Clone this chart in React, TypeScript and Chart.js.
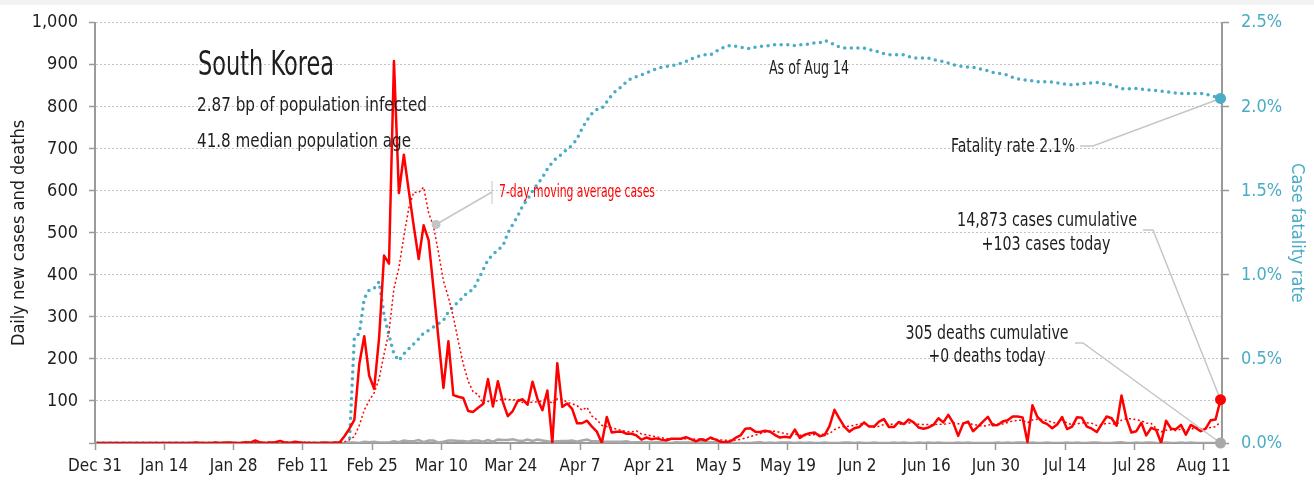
import React, { useEffect, useRef } from 'react';
import { Chart, registerables } from 'chart.js';

Chart.register(...registerables);

// ---------- data (day index 0 = Dec 31, 2019 … 227 = Aug 14, 2020) ----------
const X_TICK_LABELS = [
  'Dec 31', 'Jan 14', 'Jan 28', 'Feb 11', 'Feb 25', 'Mar 10', 'Mar 24', 'Apr 7', 'Apr 21',
  'May 5', 'May 19', 'Jun 2', 'Jun 16', 'Jun 30', 'Jul 14', 'Jul 28', 'Aug 11',
];

const CASES = [
  0, 0, 0, 0, 0, 0, 0, 0, 0, 0,
  0, 0, 0, 0, 0, 0, 0, 0, 0, 0,
  1, 0, 0, 0, 1, 0, 1, 1, 0, 0,
  2, 1, 6, 1, 0, 1, 2, 5, 1, 0,
  3, 1, 0, 0, 0, 0, 1, 0, 1, 1,
  16, 34, 55, 188, 254, 160, 129, 250, 446, 427,
  909, 595, 686, 600, 516, 438, 518, 483, 367, 248,
  131, 242, 114, 110, 107, 76, 74, 84, 93, 152,
  87, 147, 98, 64, 76, 100, 104, 91, 146, 105,
  78, 125, 0, 190, 86, 94, 81, 47, 47, 53,
  39, 27, 0, 62, 25, 27, 27, 22, 22, 18,
  8, 13, 9, 11, 8, 6, 10, 10, 10, 14,
  9, 4, 9, 6, 13, 8, 3, 2, 4, 12,
  18, 34, 35, 27, 26, 29, 27, 19, 13, 15,
  13, 32, 12, 20, 23, 25, 16, 19, 40, 79,
  58, 39, 27, 35, 38, 49, 39, 39, 51, 57,
  38, 38, 50, 45, 56, 49, 37, 34, 37, 43,
  59, 49, 67, 48, 17, 46, 51, 28, 39, 51,
  62, 42, 43, 51, 54, 63, 63, 61, 2, 90,
  62, 50, 45, 35, 44, 62, 33, 39, 61, 60,
  39, 34, 26, 45, 63, 59, 41, 113, 58, 25,
  28, 48, 18, 36, 31, 0, 53, 34, 33, 43,
  20, 43, 36, 28, 34, 54, 56, 103,
];

const CASES_7DAY_AVG = [
  0, 0, 0, 0, 0, 0, 0, 0, 0, 0,
  0, 0, 0, 0, 0, 0, 0, 0, 0, 0,
  0.14, 0.14, 0.14, 0.14, 0.29, 0.29, 0.43, 0.43, 0.43, 0.43,
  0.71, 0.71, 1.57, 1.57, 1.43, 1.57, 1.86, 2.29, 2.29, 1.43,
  1.71, 1.86, 1.71, 1.43, 0.71, 0.57, 0.71, 0.29, 0.29, 0.43,
  2.71, 7.57, 15.4, 42.1, 78.4, 101.1, 119.4, 152.9, 211.7, 264.9,
  367.9, 416.6, 491.7, 559, 597, 595.9, 608.9, 548, 515.4, 452.9,
  385.9, 346.7, 300.4, 242.1, 188.4, 146.9, 122, 115.3, 94, 99.4,
  96.1, 101.9, 105, 103.6, 102.4, 103.4, 96.6, 97.1, 97, 98,
  100, 107, 92.7, 105, 104.3, 96.9, 93.4, 89, 77.9, 85.4,
  63.9, 55.4, 42, 39.3, 36.1, 33.3, 29.6, 27.1, 26.4, 29,
  21.3, 19.6, 17, 14.7, 12.7, 10.4, 9.3, 9.6, 9.1, 9.9,
  9.6, 9, 9.4, 8.9, 9.3, 9, 7.4, 6.4, 6.4, 6.9,
  8.6, 11.6, 15.4, 18.9, 22.3, 25.9, 28, 28.1, 25.1, 22.3,
  20.3, 21.1, 18.7, 17.7, 18.3, 20, 20.1, 21, 22.1, 31.7,
  37.1, 39.4, 39.7, 42.4, 45.1, 46.4, 40.7, 38, 39.7, 44,
  44.4, 44.4, 44.6, 45.4, 47.9, 47.6, 44.7, 44.1, 44, 43,
  45, 44, 46.6, 48.1, 45.7, 47, 48.1, 43.7, 42.3, 40,
  42, 45.6, 45.1, 45.1, 48.9, 52.3, 54, 53.9, 48.1, 54.9,
  56.4, 55.9, 53.3, 49.3, 46.9, 55.4, 47.3, 44, 45.6, 47.7,
  48.3, 46.9, 41.7, 43.4, 46.9, 46.6, 43.9, 54.4, 57.9, 57.7,
  55.3, 53.1, 47.3, 46.6, 34.9, 26.6, 30.6, 31.4, 29.3, 32.9,
  30.6, 32.3, 37.4, 33.9, 33.9, 36.9, 38.7, 50.6,
];

const DEATHS = [
  0, 0, 0, 0, 0, 0, 0, 0, 0, 0,
  0, 0, 0, 0, 0, 0, 0, 0, 0, 0,
  0, 0, 0, 0, 0, 0, 0, 0, 0, 0,
  0, 0, 0, 0, 0, 0, 0, 0, 0, 0,
  0, 0, 0, 0, 0, 0, 0, 0, 0, 0,
  0, 1, 1, 0, 3, 2, 3, 1, 1, 1,
  4, 2, 6, 4, 4, 7, 2, 6, 6, 1,
  3, 6, 6, 5, 5, 3, 6, 6, 3, 7,
  3, 8, 7, 7, 9, 6, 5, 8, 5, 8,
  6, 4, 3, 4, 5, 5, 6, 3, 6, 8,
  4, 4, 3, 3, 3, 3, 3, 4, 1, 2,
  2, 2, 1, 2, 2, 0, 0, 2, 1, 1,
  1, 1, 2, 2, 2, 2, 0, 1, 1, 0,
  0, 0, 0, 1, 2, 0, 1, 0, 1, 1,
  1, 0, 1, 0, 1, 0, 0, 1, 0, 0,
  0, 1, 1, 0, 1, 0, 0, 1, 0, 0,
  0, 1, 0, 1, 0, 0, 1, 0, 1, 0,
  1, 0, 0, 0, 1, 0, 1, 0, 0, 0,
  0, 0, 1, 0, 1, 0, 1, 1, 0, 1,
  0, 0, 1, 0, 0, 0, 1, 0, 1, 0,
  0, 1, 1, 0, 0, 0, 1, 2, 0, 0,
  1, 0, 1, 1, 0, 0, 1, 0, 0, 1,
  0, 1, 0, 0, 0, 0, 0, 0,
];

// case fatality rate, percent
const FATALITY_RATE = [
  0, 0, 0, 0, 0, 0, 0, 0, 0, 0,
  0, 0, 0, 0, 0, 0, 0, 0, 0, 0,
  0, 0, 0, 0, 0, 0, 0, 0, 0, 0,
  0, 0, 0, 0, 0, 0, 0, 0, 0, 0,
  0, 0, 0, 0, 0, 0, 0, 0, 0, 0,
  0, 0, 0.63, 0.65, 0.86, 0.91, 0.92, 0.96, 0.76, 0.64,
  0.53, 0.49, 0.53, 0.56, 0.59, 0.62, 0.655, 0.67, 0.69, 0.71,
  0.73, 0.78, 0.81, 0.84, 0.87, 0.9, 0.91, 0.97, 1.03, 1.09,
  1.12, 1.15, 1.17, 1.25, 1.3, 1.35, 1.41, 1.45, 1.5, 1.54,
  1.58, 1.63, 1.67, 1.7, 1.72, 1.75, 1.77, 1.81, 1.87, 1.92,
  1.96, 1.985, 1.99, 2.03, 2.07, 2.1, 2.12, 2.15, 2.17, 2.18,
  2.19, 2.2, 2.215, 2.225, 2.235, 2.24, 2.245, 2.25, 2.26, 2.27,
  2.285, 2.295, 2.305, 2.31, 2.31, 2.33, 2.345, 2.36, 2.365, 2.36,
  2.355, 2.35, 2.345, 2.355, 2.36, 2.36, 2.365, 2.37, 2.37, 2.37,
  2.37, 2.365, 2.37, 2.37, 2.375, 2.38, 2.38, 2.395, 2.385, 2.37,
  2.355, 2.35, 2.35, 2.35, 2.35, 2.35, 2.34, 2.335, 2.325, 2.316,
  2.31, 2.31, 2.31, 2.31, 2.3, 2.29, 2.29, 2.29, 2.29, 2.28,
  2.275, 2.27, 2.26, 2.25, 2.245, 2.24, 2.237, 2.235, 2.23, 2.22,
  2.215, 2.205, 2.2, 2.195, 2.188, 2.175, 2.167, 2.16, 2.158, 2.155,
  2.15, 2.15, 2.148, 2.147, 2.143, 2.138, 2.134, 2.13, 2.134, 2.138,
  2.14, 2.143, 2.145, 2.14, 2.135, 2.13, 2.12, 2.108, 2.106, 2.108,
  2.11, 2.106, 2.102, 2.1, 2.097, 2.093, 2.09, 2.086, 2.082, 2.08,
  2.08, 2.08, 2.08, 2.08, 2.077, 2.067, 2.06, 2.05,
];

const MA_LABEL_ANCHOR = { x: 68.5, y: 520 };

// ---------- styling ----------
const FONT = "'Liberation Sans Narrow', 'DejaVu Sans Condensed', Roboto, sans-serif";
const RED = '#ff0000';
const BLUE = '#4aacc6';
const GRAY_LINE = '#a8a8a8';
const AXIS = '#9a9a9a';
const TEXT = '#1e1e1e';
const LEADER = '#c6c6c6';

const toXY = (arr: number[]) => arr.map((v, i) => ({ x: i, y: v }));

const annotationPlugin = {
  id: 'skAnnotations',
  afterDraw(chart: any) {
    const { ctx, scales } = chart;
    const x = scales.x;
    const y = scales.y;
    const y1 = scales.y1;
    const last = CASES.length - 1;
    const px = x.getPixelForValue(last);
    const redY = y.getPixelForValue(CASES[last]);
    const grayY = y.getPixelForValue(DEATHS[last]);
    const blueY = y1.getPixelForValue(FATALITY_RATE[last]);
    const maX = x.getPixelForValue(MA_LABEL_ANCHOR.x);
    const maY = y.getPixelForValue(MA_LABEL_ANCHOR.y);

    ctx.save();
    // leader lines
    ctx.strokeStyle = LEADER;
    ctx.lineWidth = 1.5;
    const poly = (pts: number[][]) => {
      ctx.beginPath();
      ctx.moveTo(pts[0][0], pts[0][1]);
      for (let i = 1; i < pts.length; i++) ctx.lineTo(pts[i][0], pts[i][1]);
      ctx.stroke();
    };
    poly([[1080, 146], [1093, 146], [px, blueY]]);
    poly([[1143, 230], [1153, 230], [px, redY]]);
    poly([[1075, 343], [1083, 343], [px, grayY]]);
    poly([[492, 192], [maX, maY]]);
    ctx.lineWidth = 1;
    poly([[492, 181], [492, 204]]);

    // dots
    const dot = (cx: number, cy: number, r: number, c: string) => {
      ctx.beginPath();
      ctx.arc(cx, cy, r, 0, Math.PI * 2);
      ctx.fillStyle = c;
      ctx.fill();
    };
    dot(maX, maY, 4.5, '#c4c4c4');
    dot(px, grayY, 5.5, GRAY_LINE);
    dot(px, blueY, 5.5, BLUE);
    dot(px, redY, 5.5, RED);

    // texts (condensed horizontally to the reference's narrow face)
    const text = (
      s: string, tx: number, ty: number, size: number, align: CanvasTextAlign,
      width: number, color = TEXT,
    ) => {
      ctx.save();
      ctx.font = `${size}px ${FONT}`;
      ctx.fillStyle = color;
      ctx.textAlign = align;
      ctx.textBaseline = 'alphabetic';
      const w = ctx.measureText(s).width;
      const sx = w > 0 ? Math.min(1, width / w) : 1;
      ctx.translate(tx, ty);
      ctx.scale(sx, 1);
      ctx.fillText(s, 0, 0);
      ctx.restore();
    };
    text('South Korea', 198, 75, 34, 'left', 136);
    text('2.87 bp of population infected', 197, 111, 20, 'left', 230);
    text('41.8 median population age', 197, 147, 20, 'left', 214);
    text('As of Aug 14', 769, 74, 20, 'left', 80);
    text('Fatality rate 2.1%', 1075, 151.5, 20, 'right', 124);
    text('7-day moving average cases', 499, 197, 17, 'left', 156, RED);
    text('14,873 cases cumulative', 1047, 226, 20, 'center', 180);
    text('+103 cases today', 1046, 250, 20, 'center', 129);
    text('305 deaths cumulative', 987, 339, 20, 'center', 163);
    text('+0 deaths today', 987, 362, 20, 'center', 117);
    ctx.restore();
  },
};

export default function App() {
  const ref = useRef<HTMLCanvasElement | null>(null);

  useEffect(() => {
    if (!ref.current) return;
    const chart = new Chart(ref.current, {
      type: 'line',
      data: {
        datasets: [
          {
            label: 'Daily new cases',
            data: toXY(CASES),
            yAxisID: 'y',
            borderColor: RED,
            borderWidth: 2.5,
            pointRadius: 0,
            borderJoinStyle: 'round',
            order: 0,
          },
          {
            label: '7-day moving average cases',
            data: toXY(CASES_7DAY_AVG),
            yAxisID: 'y',
            borderColor: RED,
            borderWidth: 1.5,
            borderDash: [2, 2.5],
            pointRadius: 0,
            order: 1,
          },
          {
            label: 'Daily new deaths',
            data: toXY(DEATHS),
            yAxisID: 'y',
            borderColor: GRAY_LINE,
            borderWidth: 2.5,
            pointRadius: 0,
            order: 2,
          },
          {
            label: 'Case fatality rate',
            data: toXY(FATALITY_RATE),
            yAxisID: 'y1',
            borderColor: BLUE,
            borderWidth: 3.5,
            borderDash: [0, 6.6],
            borderCapStyle: 'round',
            pointRadius: 0,
            order: 3,
          },
        ],
      },
      options: {
        responsive: false,
        animation: false,
        layout: { padding: { top: 18, left: 0, right: 0, bottom: 0 } },
        plugins: { legend: { display: false }, tooltip: { enabled: false } },
        elements: { point: { radius: 0 }, line: { tension: 0 } },
        scales: {
          x: {
            type: 'linear',
            min: -0.4,
            max: 227.3,
            afterBuildTicks: (s: any) => {
              s.ticks = X_TICK_LABELS.map((_, k) => ({ value: 14 * k - 0.4 }));
            },
            afterFit: (s: any) => {
              s.height = 39;
            },
            ticks: {
              callback: (_v: any, i: number) => X_TICK_LABELS[i],
              autoSkip: false,
              maxRotation: 0,
              padding: 6,
              color: TEXT,
              font: { family: FONT, size: 17 },
            },
            grid: { drawOnChartArea: false, drawTicks: true, tickLength: 7, tickColor: AXIS, tickWidth: 1.5 },
            border: { color: AXIS, width: 2 },
          },
          y: {
            position: 'left',
            min: 0,
            max: 1000,
            ticks: {
              stepSize: 100,
              callback: (v: any) => (v === 0 ? '' : Number(v).toLocaleString('en-US')),
              padding: 11,
              color: TEXT,
              font: { family: FONT, size: 18 },
            },
            grid: { color: '#c4c4c4', lineWidth: 1, tickLength: 6, tickColor: AXIS, tickWidth: 1.5 },
            border: { dash: [2, 2], color: AXIS, width: 2 },
            title: {
              display: true,
              text: 'Daily new cases and deaths',
              color: TEXT,
              font: { family: FONT, size: 18 },
              padding: { top: 9, bottom: 0 },
            },
            afterFit: (s: any) => {
              s.width = 95;
            },
          },
          y1: {
            position: 'right',
            min: 0,
            max: 2.5,
            ticks: {
              stepSize: 0.5,
              callback: (v: any) => `${Number(v).toFixed(1)}%`,
              padding: 12,
              color: BLUE,
              font: { family: FONT, size: 18 },
            },
            grid: { drawOnChartArea: false, tickLength: 7, tickColor: AXIS, tickWidth: 1.5 },
            border: { color: AXIS, width: 2 },
            title: {
              display: true,
              text: 'Case fatality rate',
              color: BLUE,
              font: { family: FONT, size: 18 },
              padding: { top: 7, bottom: 0 },
            },
            afterFit: (s: any) => {
              s.width = 92;
            },
          },
        },
      },
      plugins: [annotationPlugin],
    } as any);
    return () => chart.destroy();
  }, []);

  return (
    <div style={{ position: 'absolute', left: 0, top: 0, width: 1314, height: 482, background: '#fff' }}>
      <div style={{ position: 'absolute', left: 0, top: 0, width: 1314, height: 5, background: '#f2f2f2' }} />
      <canvas ref={ref} width={1314} height={482} style={{ position: 'absolute', left: 0, top: 0 }} />
    </div>
  );
}
